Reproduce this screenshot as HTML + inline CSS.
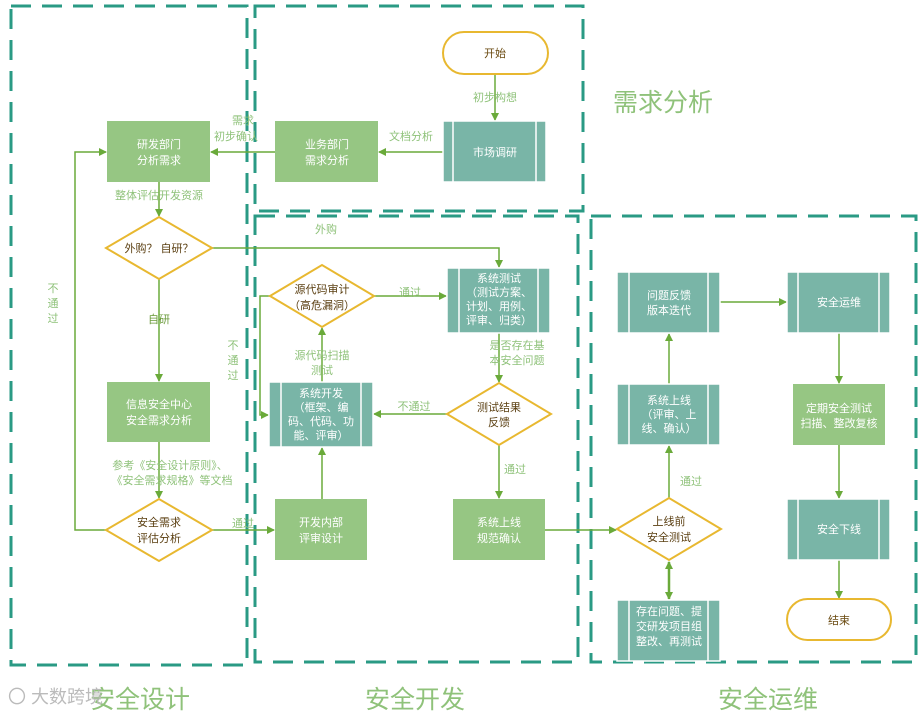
<!DOCTYPE html>
<html><head><meta charset="utf-8"><style>
html,body{margin:0;padding:0;background:#fff;}
svg text{font-family:"Liberation Sans","Noto Sans CJK SC",sans-serif;}
</style></head><body>
<svg width="919" height="716" viewBox="0 0 919 716" xmlns="http://www.w3.org/2000/svg">
<defs>
<marker id="a" markerWidth="8" markerHeight="8" refX="7" refY="4" orient="auto" markerUnits="userSpaceOnUse"><path d="M0,0 L8,4 L0,8 z" fill="#6aaa3a"/></marker>
<marker id="s" markerWidth="8" markerHeight="8" refX="1" refY="4" orient="auto" markerUnits="userSpaceOnUse"><path d="M8,0 L0,4 L8,8 z" fill="#6aaa3a"/></marker>
</defs>
<g fill="none" stroke="#2a9a84" stroke-width="3" stroke-dasharray="20,11">
<rect x="11" y="6" width="236" height="659"/>
<rect x="255" y="6" width="328" height="205"/>
<rect x="255" y="216" width="323" height="446"/>
<rect x="591" y="216" width="325" height="446"/>
</g>
<g font-size="25" fill="#8fc27a">
<text x="613" y="111">需求分析</text>
<text x="90" y="708">安全设计</text>
<text x="365" y="708">安全开发</text>
<text x="718" y="708">安全运维</text>
</g>
<text x="8" y="703" font-size="18" fill="#bbb">〇 大数跨境</text>
<!-- connectors -->
<g stroke="#6aaa3a" stroke-width="1.5" fill="none">
<path d="M495,74 V120" marker-end="url(#a)"/>
<path d="M443,152 H379" marker-end="url(#a)"/>
<path d="M275,152 H211" marker-end="url(#a)"/>
<path d="M159,182 V216" marker-end="url(#a)"/>
<path d="M212,248 H499 V267" marker-end="url(#a)"/>
<path d="M159,279 V381" marker-end="url(#a)"/>
<path d="M159,442 V498" marker-end="url(#a)"/>
<path d="M106,530 H75 V152 H106" marker-end="url(#a)"/>
<path d="M212,530 H274" marker-end="url(#a)"/>
<path d="M322,499 V448" marker-end="url(#a)"/>
<path d="M322,382 V328" marker-end="url(#a)"/>
<path d="M374,296 H446" marker-end="url(#a)"/>
<path d="M270,296 H260 V415 H268" marker-end="url(#a)"/>
<path d="M499,333 V382" marker-end="url(#a)"/>
<path d="M447,414 H374" marker-end="url(#a)"/>
<path d="M499,445 V498" marker-end="url(#a)"/>
<path d="M545,530 H616" marker-end="url(#a)"/>
<path d="M669,498 V446" marker-end="url(#a)"/>
<path d="M669,562 V599" marker-start="url(#s)" marker-end="url(#a)" stroke-width="2.5"/>
<path d="M669,384 V334" marker-end="url(#a)"/>
<path d="M720,302 H786" marker-end="url(#a)"/>
<path d="M839,333 V383" marker-end="url(#a)"/>
<path d="M839,445 V498" marker-end="url(#a)"/>
<path d="M839,560 V598" marker-end="url(#a)"/>
</g>
<!-- labels -->
<g font-size="11" fill="#8fc27a" text-anchor="middle">
<text x="495" y="101">初步构想</text>
<text x="411" y="140">文档分析</text>
<text x="243" y="124">需求</text>
<text x="236" y="140">初步确认</text>
<text x="159" y="199">整体评估开发资源</text>
<text x="326" y="233">外购</text>
<text x="159" y="323" fill="#6a9a3a">自研</text>
<text x="170" y="469">参考《安全设计原则》、</text>
<text x="172" y="484">《安全需求规格》等文档</text>
<text x="53" y="292">不</text><text x="53" y="307">通</text><text x="53" y="322">过</text>
<text x="243" y="527">通过</text>
<text x="410" y="296">通过</text>
<text x="233" y="349">不</text><text x="233" y="364">通</text><text x="233" y="379">过</text>
<text x="322" y="359">源代码扫描</text>
<text x="322" y="374">测试</text>
<text x="517" y="349">是否存在基</text>
<text x="517" y="364">本安全问题</text>
<text x="414" y="410">不通过</text>
<text x="515" y="473">通过</text>
<text x="691" y="485">通过</text>
</g>
<!-- nodes -->
<g font-size="11" text-anchor="middle">
<rect x="443" y="32" width="105" height="42" rx="21" fill="#fff" stroke="#e8b830" stroke-width="2"/>
<text x="495" y="57" fill="#6a4a10">开始</text>
<rect x="787" y="599" width="104" height="41" rx="20.5" fill="#fff" stroke="#e8b830" stroke-width="2"/>
<text x="839" y="624" fill="#6a4a10">结束</text>

<g fill="#96c683">
<rect x="107" y="121" width="103" height="61"/>
<rect x="275" y="121" width="103" height="61"/>
<rect x="107" y="382" width="103" height="60"/>
<rect x="275" y="499" width="92" height="61"/>
<rect x="453" y="499" width="92" height="61"/>
<rect x="793" y="384" width="92" height="61"/>
</g>
<g fill="#79b5a7" stroke="#fff" stroke-width="1.5">
<rect x="443" y="121" width="103" height="61"/><path d="M453,121V182M536,121V182"/>
<rect x="269" y="382" width="104" height="65"/><path d="M281,382V447M361,382V447"/>
<rect x="447" y="268" width="103" height="65"/><path d="M459,268V333M538,268V333"/>
<rect x="617" y="600" width="103" height="61"/><path d="M629,600V661M708,600V661"/>
<rect x="617" y="384" width="103" height="61"/><path d="M629,384V445M708,384V445"/>
<rect x="617" y="272" width="103" height="61"/><path d="M629,272V333M708,272V333"/>
<rect x="787" y="272" width="103" height="61"/><path d="M798,272V333M879,272V333"/>
<rect x="787" y="499" width="103" height="61"/><path d="M798,499V560M879,499V560"/>
</g>
<g fill="#fff" stroke="#e8b830" stroke-width="2">
<path d="M106,248 L159,217 L212,248 L159,279 z"/>
<path d="M106,530 L159,499 L212,530 L159,561 z"/>
<path d="M270,296 L322,265 L374,296 L322,327 z"/>
<path d="M447,414 L499,383 L551,414 L499,445 z"/>
<path d="M617,529 L669,498 L721,529 L669,560 z"/>
</g>
<g fill="#fff">
<text x="159" y="148">研发部门</text><text x="159" y="164">分析需求</text>
<text x="327" y="148">业务部门</text><text x="327" y="164">需求分析</text>
<text x="495" y="156">市场调研</text>
<text x="159" y="408">信息安全中心</text><text x="159" y="424">安全需求分析</text>
<text x="321" y="526">开发内部</text><text x="321" y="542">评审设计</text>
<text x="321" y="397">系统开发</text><text x="321" y="411">（框架、编</text><text x="321" y="425">码、代码、功</text><text x="321" y="439">能、评审）</text>
<text x="499" y="282">系统测试</text><text x="499" y="296">（测试方案、</text><text x="499" y="310">计划、用例、</text><text x="499" y="324">评审、归类）</text>
<text x="499" y="526">系统上线</text><text x="499" y="542">规范确认</text>
<text x="669" y="615">存在问题、提</text><text x="669" y="630">交研发项目组</text><text x="669" y="645">整改、再测试</text>
<text x="669" y="404">系统上线</text><text x="669" y="418">（评审、上</text><text x="669" y="432">线、确认）</text>
<text x="669" y="299">问题反馈</text><text x="669" y="314">版本迭代</text>
<text x="839" y="306">安全运维</text>
<text x="839" y="412">定期安全测试</text><text x="839" y="427">扫描、整改复核</text>
<text x="839" y="533">安全下线</text>
</g>
<g fill="#5a3e10">
<text x="159" y="252">外购？ 自研？</text>
<text x="159" y="526">安全需求</text><text x="159" y="542">评估分析</text>
<text x="322" y="293">源代码审计</text><text x="322" y="309">（高危漏洞）</text>
<text x="499" y="411">测试结果</text><text x="499" y="426">反馈</text>
<text x="669" y="525">上线前</text><text x="669" y="541">安全测试</text>
</g>
</g>
</svg>
</body></html>
